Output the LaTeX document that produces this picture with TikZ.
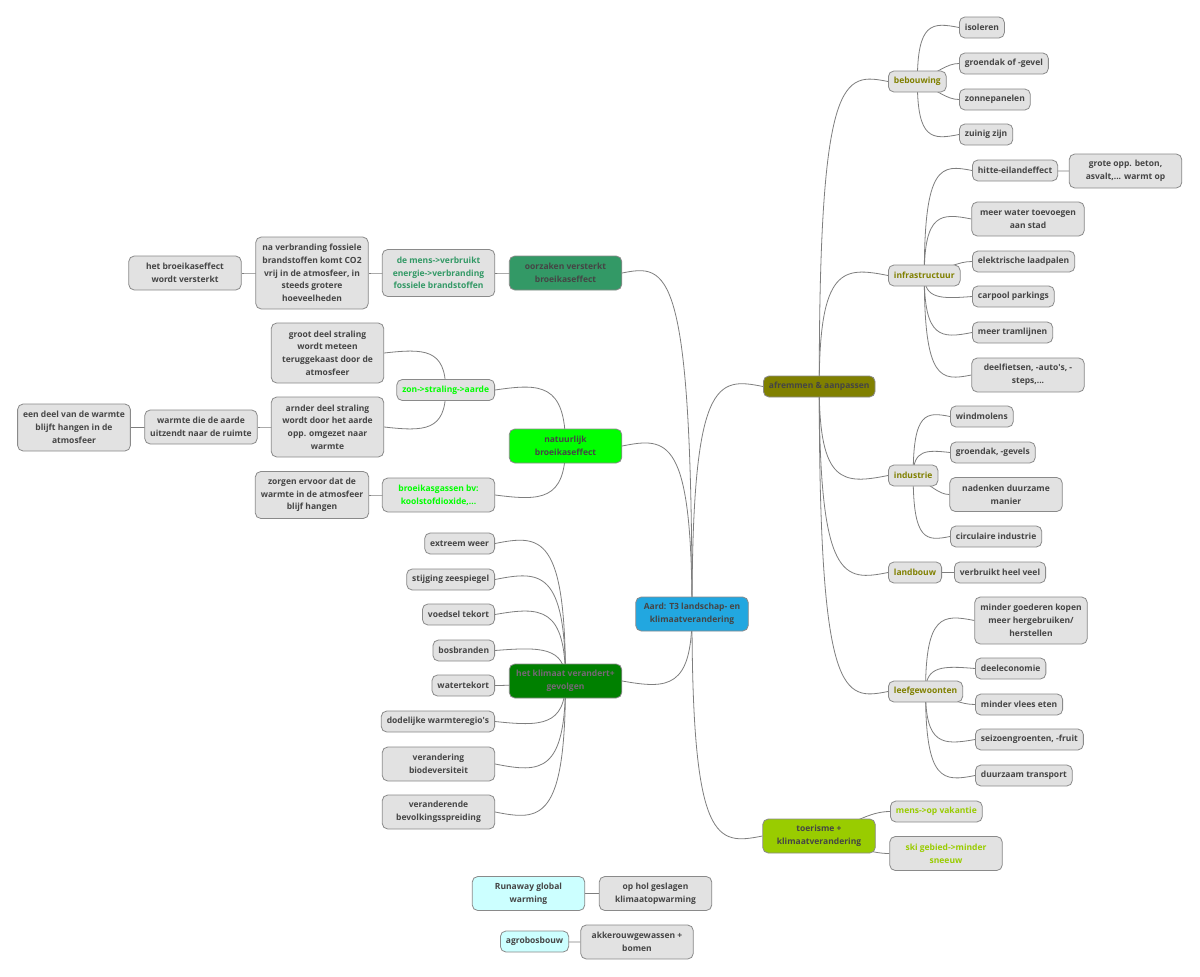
\documentclass[tikz,border=0pt]{standalone}
\usepackage{fontspec}
\setmainfont{Open Sans}
\usetikzlibrary{calc}
\definecolor{cbord}{HTML}{8A8A8A}
\definecolor{cfill}{HTML}{E2E2E2}
\definecolor{ctext}{HTML}{454545}
\definecolor{cline}{HTML}{7E7E7E}
\definecolor{croot}{HTML}{22A7E0}
\definecolor{coorz}{HTML}{339966}
\definecolor{cnat}{HTML}{00FF00}
\definecolor{cklim}{HTML}{008000}
\definecolor{cklimtext}{HTML}{766876}
\definecolor{colive}{HTML}{808000}
\definecolor{cyg}{HTML}{99CC00}
\definecolor{ccyan}{HTML}{CCFFFF}
\pgfdeclarelayer{bg}\pgfdeclarelayer{lk}\pgfsetlayers{bg,lk,main}
\newcommand\mmlink[3]{%
  \draw[mmline] let \p1=(#1.center), \p2=(#2.#3), \p5=(#1.north),
    \n1={sign((\y2)-(\y1))*min(0.12*abs((\y2)-(\y1)),0.13*abs((\x2)-(\x1)))},
    \n2={ifthenelse(abs((\y2)-(\y1))-((\y5)-(\y1))<9,1,0)},
    \n3={(\x1)+\n2*0.5*((\x2)-(\x1))},
    \n4={(1-\n2)*((\y2)+\n1*1pt)+\n2*((\y1)+0.5*((\y2)-(\y1)))},
    \n5={(\x1)+((1-\n2)*0.35+\n2*0.7)*((\x2)-(\x1))},
    \n6={(\y2)+(1-\n2)*\n1*1pt}
  in (\p1) .. controls ({\n3*1pt},{\n4*1pt}) and ({\n5*1pt},{\n6*1pt}) .. (\p2);}
\begin{document}
\begin{tikzpicture}[x=1pt,y=-1pt,
  mmbox/.style={draw=cbord,fill=cfill,line width=0.8pt,rounded corners=5.5pt,
    font=\fontsize{8.5pt}{12.7pt}\selectfont\bfseries,text=ctext,align=center,
    inner xsep=5.5pt,inner ysep=2pt,minimum height=21pt},
  two/.style={minimum height=34pt,minimum width=112.5pt},
  three/.style={minimum height=47pt,minimum width=112.5pt},
  four/.style={minimum height=60pt,minimum width=112.5pt},
  five/.style={minimum height=72pt,minimum width=112.5pt},
  mmline/.style={draw=cline,line width=0.8pt}]
\useasboundingbox (0,0) rectangle (1200,977);
\begin{pgfonlayer}{bg}\fill[white] (0,0) rectangle (1200,977);\end{pgfonlayer}
% root
\node[mmbox,two,fill=croot] (root) at (692,614) {Aard: T3 landschap- en\\klimaatverandering};
% left: oorzaken
\node[mmbox,two,fill=coorz] (oorz) at (565.5,273) {oorzaken versterkt\\broeikaseffect};
\node[mmbox,three,text=coorz] (mens) at (438.5,273) {de mens->verbruikt\\energie->verbranding\\fossiele brandstoffen};
\node[mmbox,five] (naver) at (312,273) {na verbranding fossiele\\brandstoffen komt CO2\\vrij in de atmosfeer, in\\steeds grotere\\hoeveelheden};
\node[mmbox,two] (hetbr) at (185,273) {het broeikaseffect\\wordt versterkt};
% left: natuurlijk
\node[mmbox,two,fill=cnat] (natu) at (565.5,446) {natuurlijk\\broeikaseffect};
\node[mmbox,anchor=east,text=cnat] (zon) at (495,390) {zon->straling->aarde};
\node[mmbox,four] (groot) at (327.5,353) {groot deel straling\\wordt meteen\\teruggekaast door de\\atmosfeer};
\node[mmbox,four] (arnder) at (327.5,427) {arnder deel straling\\wordt door het aarde\\opp. omgezet naar\\warmte};
\node[mmbox,two] (warmte) at (201,427) {warmte die de aarde\\uitzendt naar de ruimte};
\node[mmbox,three] (eendeel) at (74,427.5) {een deel van de warmte\\blijft hangen in de\\atmosfeer};
\node[mmbox,two,text=cnat] (gassen) at (438.5,495) {broeikasgassen bv:\\koolstofdioxide,...};
\node[mmbox,three] (zorgen) at (312,495) {zorgen ervoor dat de\\warmte in de atmosfeer\\blijf hangen};
% left: klimaat
\node[mmbox,two,fill=cklim,text=cklimtext] (klim) at (565.5,681) {het klimaat verandert+\\gevolgen};
\node[mmbox,anchor=east] (g1) at (495,543.5) {extreem weer};
\node[mmbox,anchor=east] (g2) at (495,579.5) {stijging zeespiegel};
\node[mmbox,anchor=east] (g3) at (495,614.5) {voedsel tekort};
\node[mmbox,anchor=east] (g4) at (495,650.5) {bosbranden};
\node[mmbox,anchor=east] (g5) at (495,685.5) {watertekort};
\node[mmbox,anchor=east] (g6) at (495,721.5) {dodelijke warmteregio\textquotesingle s};
\node[mmbox,two] (g7) at (438.5,764) {verandering\\biodeversiteit};
\node[mmbox,two] (g8) at (438.5,812) {veranderende\\bevolkingsspreiding};
% right: afremmen
\node[mmbox,anchor=west,fill=colive] (afrem) at (763,386.5) {afremmen \& aanpassen};
\node[mmbox,anchor=west,text=colive] (beb) at (888,81.5) {bebouwing};
\node[mmbox,anchor=west] (b1) at (959,27.5) {isoleren};
\node[mmbox,anchor=west] (b2) at (959,63.5) {groendak of -gevel};
\node[mmbox,anchor=west] (b3) at (959,99.5) {zonnepanelen};
\node[mmbox,anchor=west] (b4) at (959,134.5) {zuinig zijn};
\node[mmbox,anchor=west,text=colive] (infra) at (888,275.5) {infrastructuur};
\node[mmbox,anchor=west] (i1) at (972,170.5) {hitte-eilandeffect};
\node[mmbox,two] (i1a) at (1125.5,171) {grote opp. beton,\\asvalt,... warmt op};
\node[mmbox,two] (i2) at (1028,219) {meer water toevoegen\\aan stad};
\node[mmbox,anchor=west] (i3) at (972,261.5) {elektrische laadpalen};
\node[mmbox,anchor=west] (i4) at (972,296.5) {carpool parkings};
\node[mmbox,anchor=west] (i5) at (972,332.5) {meer tramlijnen};
\node[mmbox,two] (i6) at (1028,375) {deelfietsen, -auto\textquotesingle s, -\\steps,...};
\node[mmbox,anchor=west,text=colive] (indu) at (888,475.5) {industrie};
\node[mmbox,anchor=west] (n1) at (950,416.5) {windmolens};
\node[mmbox,anchor=west] (n2) at (950,452.5) {groendak, -gevels};
\node[mmbox,two] (n3) at (1006,494.5) {nadenken duurzame\\manier};
\node[mmbox,anchor=west] (n4) at (950,536.5) {circulaire industrie};
\node[mmbox,anchor=west,text=colive] (land) at (888,572.5) {landbouw};
\node[mmbox,anchor=west] (l1) at (954,572.5) {verbruikt heel veel};
\node[mmbox,anchor=west,text=colive] (leef) at (888,691.5) {leefgewoonten};
\node[mmbox,three] (f1) at (1031,620.5) {minder goederen kopen\\meer hergebruiken/\\herstellen};
\node[mmbox,anchor=west] (f2) at (975,668.5) {deeleconomie};
\node[mmbox,anchor=west] (f3) at (975,704.5) {minder vlees eten};
\node[mmbox,anchor=west] (f4) at (975,739.5) {seizoengroenten, -fruit};
\node[mmbox,anchor=west] (f5) at (975,775.5) {duurzaam transport};
% right: toerisme
\node[mmbox,two,fill=cyg] (toer) at (819,836) {toerisme +\\klimaatverandering};
\node[mmbox,anchor=west,text=cyg] (t1) at (890,811.5) {mens->op vakantie};
\node[mmbox,two,text=cyg] (t2) at (946,853.5) {ski gebied->minder\\sneeuw};
% separate
\node[mmbox,two,fill=ccyan] (run) at (528.5,893.5) {Runaway global\\warming};
\node[mmbox,two] (run1) at (655.5,893.5) {op hol geslagen\\klimaatopwarming};
\node[mmbox,anchor=west,fill=ccyan] (agro) at (500,941.5) {agrobosbouw};
\node[mmbox,two] (agro1) at (637,942) {akkerouwgewassen +\\bomen};
% links
\begin{pgfonlayer}{lk}
\mmlink{root}{oorz}{east}
\mmlink{root}{natu}{east}
\mmlink{root}{klim}{east}
\mmlink{root}{afrem}{west}
\mmlink{root}{toer}{west}
\mmlink{oorz}{mens}{east}
\mmlink{mens}{naver}{east}
\mmlink{naver}{hetbr}{east}
\mmlink{natu}{zon}{east}
\mmlink{zon}{groot}{east}
\mmlink{zon}{arnder}{east}
\mmlink{arnder}{warmte}{east}
\mmlink{warmte}{eendeel}{east}
\mmlink{natu}{gassen}{east}
\mmlink{gassen}{zorgen}{east}
\foreach \g in {g1,g2,g3,g4,g5,g6,g7,g8}{\mmlink{klim}{\g}{east}}
\foreach \g in {beb,infra,indu,land,leef}{\mmlink{afrem}{\g}{west}}
\foreach \g in {b1,b2,b3,b4}{\mmlink{beb}{\g}{west}}
\foreach \g in {i1,i2,i3,i4,i5,i6}{\mmlink{infra}{\g}{west}}
\mmlink{i1}{i1a}{west}
\foreach \g in {n1,n2,n3,n4}{\mmlink{indu}{\g}{west}}
\mmlink{land}{l1}{west}
\foreach \g in {f1,f2,f3,f4,f5}{\mmlink{leef}{\g}{west}}
\mmlink{toer}{t1}{west}
\mmlink{toer}{t2}{west}
\mmlink{run}{run1}{west}
\mmlink{agro}{agro1}{west}
\end{pgfonlayer}
\end{tikzpicture}
\end{document}
